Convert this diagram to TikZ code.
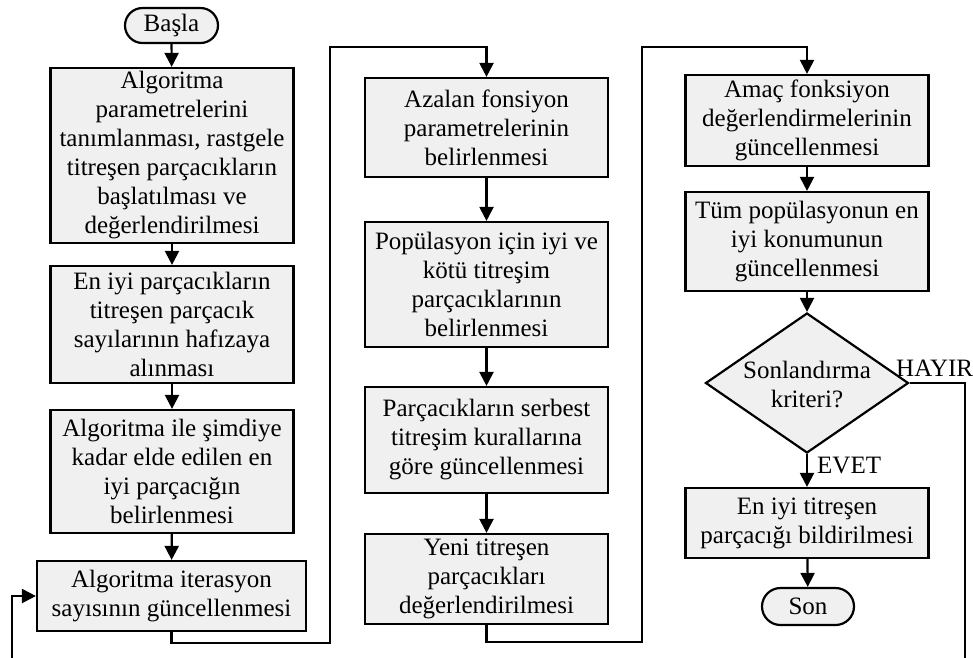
\documentclass[tikz,border=0pt]{standalone}
\usepackage{fontspec}
\setmainfont{Liberation Serif}
\usetikzlibrary{shapes.geometric,shapes.misc,arrows.meta}
\definecolor{boxgray}{HTML}{F0F0F0}
\begin{document}
\begin{tikzpicture}[x=1pt,y=-1pt,
  every node/.style={font=\fontsize{25}{29}\selectfont},
  proc/.style={draw,line width=2.2pt,fill=boxgray,align=center,inner sep=0pt,minimum width=243pt},
  term/.style={draw,line width=2.2pt,fill=boxgray,rounded rectangle,inner sep=0pt,minimum width=93pt,minimum height=35pt},
  decision/.style={draw,diamond,line width=2.2pt,fill=boxgray,inner sep=0pt,minimum width=203pt,minimum height=140pt},
  flow/.style={line width=2.2pt,-{Triangle[length=14pt,width=14pt]}},
  tag/.style={inner sep=0pt},
]
\useasboundingbox (0,0) rectangle (973,657);

% first column
\node[term] (basla) at (171.5,25.5) {Başla};
\node[proc,minimum height=175pt] (b1) at (172,155.5)
  {Algoritma\\parametrelerini\\tanımlanması, rastgele\\titreşen parçacıkların\\başlatılması ve\\değerlendirilmesi};
\node[proc,minimum height=117pt] (b2) at (172,324.5)
  {En iyi parçacıkların\\titreşen parçacık\\sayılarının hafızaya\\alınması};
\node[proc,minimum height=123pt] (b3) at (172,471.5)
  {Algoritma ile şimdiye\\kadar elde edilen en\\iyi parçacığın\\belirlenmesi};
\node[proc,minimum width=269pt,minimum height=70pt] (b4) at (171.5,596)
  {Algoritma iterasyon\\sayısının güncellenmesi};

% second column
\node[proc,minimum height=99pt] (c1) at (486.5,127.5)
  {Azalan fonsiyon\\parametrelerinin\\belirlenmesi};
\node[proc,minimum height=125pt] (c2) at (486.5,284.5)
  {Popülasyon için iyi ve\\kötü titreşim\\parçacıklarının\\belirlenmesi};
\node[proc,minimum height=106pt] (c3) at (486.5,440)
  {Parçacıkların serbest\\titreşim kurallarına\\göre güncellenmesi};
\node[proc,minimum height=90pt] (c4) at (486.5,579)
  {Yeni titreşen\\parçacıkları\\değerlendirilmesi};

% third column
\node[proc,minimum height=91pt] (d1) at (807,120.5)
  {Amaç fonksiyon\\değerlendirmelerinin\\güncellenmesi};
\node[proc,minimum height=99pt] (d2) at (807,241.5)
  {Tüm popülasyonun en\\iyi konumunun\\güncellenmesi};
\node[decision] (dia) at (807,383)
  {\makebox[0pt]{\smash{\raisebox{-10pt}{\begin{tabular}{@{}c@{}}Sonlandırma\\kriteri?\end{tabular}}}}};
\node[proc,minimum height=70pt] (g) at (807,523)
  {En iyi titreşen\\parçacığı bildirilmesi};
\node[term,minimum width=92pt,minimum height=37pt] (son) at (808,606.5) {Son};

% branch labels
\node[tag,anchor=base west] (hayir) at (896,376) {HAYIR};
\node[tag,anchor=base west] (evet) at (817,473) {EVET};

% turning points of the column links and the loop
\coordinate (r1) at (330,643);
\coordinate (t1) at (330,47);
\coordinate (r2) at (642,642);
\coordinate (t2) at (642,47);
\coordinate (hr) at (965,662);
\coordinate (hl) at (12,662);

% connectors
\draw[flow] (basla) -- (b1);
\draw[flow] (b1) -- (b2);
\draw[flow] (b2) -- (b3);
\draw[flow] (b3) -- (b4);
\draw[flow] (b4.south) |- (r1) -- (t1) -| (c1.north);
\draw[flow] (c1) -- (c2);
\draw[flow] (c2) -- (c3);
\draw[flow] (c3) -- (c4);
\draw[flow] (c4.south) |- (r2) -- (t2) -| (d1.north);
\draw[flow] (d1) -- (d2);
\draw[flow] (d2) -- (dia);
\draw[flow] (dia) -- (g);
\draw[flow] (g) -- (son);
\draw[flow] (dia.east) -| (hr) -- (hl) |- (b4.west);
\end{tikzpicture}
\end{document}
